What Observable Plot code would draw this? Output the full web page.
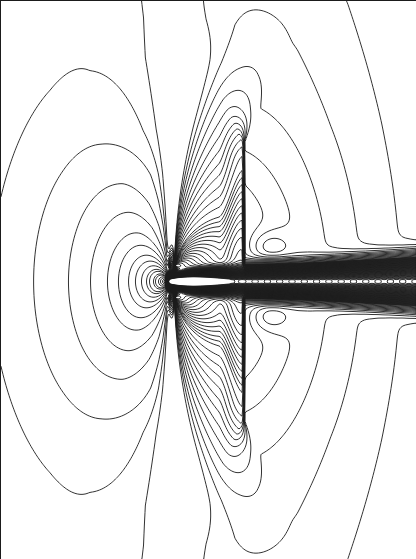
<!DOCTYPE html>
<html>
<head>
<meta charset="utf-8">
<script src="https://cdn.jsdelivr.net/npm/d3@7"></script>
<script src="https://cdn.jsdelivr.net/npm/@observablehq/plot@0.6"></script>
<style>
  html, body { margin: 0; padding: 0; background: #fff; }
  #chart { width: 416px; height: 559px; overflow: hidden; }
</style>
</head>
<body>
<div id="chart"></div>
<script>
// Pressure contours around a slender body: subsonic field ahead of the nose,
// an expansion fan over the shoulders ending in a shock, and a thin wake.
// Coordinates are measured from the nose (x downstream, y across the flow).

// Positive contour levels (compression ahead of the nose)
const positiveLevels = [0.0315, 0.0442, 0.0576, 0.0769, 0.0976, 0.123, 0.148,
  0.182, 0.216, 0.258, 0.308, 0.348, 0.421, 0.47, 0.571, 0.667, 0.8, 0.94, 1.09,
  1.27, 1.45, 1.68, 1.9];

// Negative contour levels, given as magnitudes (expansion, shock and wake)
const negativeLevels = [0.034, 0.041, 0.049, 0.059, 0.071, 0.085, 0.102, 0.122,
  0.146, 0.176, 0.211, 0.253, 0.304, 0.333, 0.364, 0.399, 0.437, 0.479, 0.525,
  0.575, 0.63, 0.69, 0.756, 0.828, 0.907, 0.993, 1.09, 1.19, 1.31, 1.43, 1.57,
  1.72, 1.88, 2.06, 2.26, 2.47, 2.71, 2.97, 3.25, 3.56, 3.9, 4.27, 4.68, 5.12,
  5.62, 6.15, 6.74, 7.38, 8.09, 8.86, 9.71, 10.6, 11.65, 12.8, 13.98, 15.3,
  16.78, 18.4, 20.13, 22.0, 24.16];

// Cross-stream stretch of the far field versus distance from the nose
const stretchRadius = [0, 56, 80, 108, 153, 225, 265, 330, 500];
const stretchFactor = [1.0, 1.6, 1.78, 1.93, 2.0, 2.28, 2.55, 2.85, 3.3];

// Wake half-width along the body axis
const wakeStation = [0, 25, 75, 132, 248];
const wakeHalfWidth = [10, 17, 21, 23, 31];

// Recompression region just behind the shock (centre, radii, strength)
const bubbleCenter = [98, 34];
const bubbleRadius = [24, 18];
const bubbleStrength = 0.03;

// Field parameters
const dipoleStrength = 8, coreRadius = 4;
const polarBoost = 0.8, polarWidth = 8;             // extra stretch near the vertical (deg)
const focalX = 6, focalY = 16;                      // shoulder where the fan starts
const fanStrength = 43, fanRadius = 30;
const shockX = 75, shockHalfWidth = 1.6;
const shockGain = 0.8, shockRamp = [50, 75], shockHeight = [120, 175];
const pocketTop = [165, 300];                       // fan fades out between these heights
const bodyLength = 62, bodyShape = 8.05;
const noseCore = 35, wakeCore = 24.16, wakeRipple = 0.05, ripplePeriod = 12.3, wakeCoreHalf = 1.3;
const edgeLevel = 0.05, wakeShape = 1.3;

const domainX = [-168, 248], domainY = [-281, 278];

const thresholds = [...negativeLevels.map(v => -v).reverse(), ...positiveLevels];
const kBase = d3.scaleLinear(stretchRadius, stretchFactor).clamp(true);
const wakeW = d3.scaleLinear(wakeStation, wakeHalfWidth);

function smoothstep(a, b, v) {
  const t = Math.max(0, Math.min(1, (v - a) / (b - a)));
  return t * t * (3 - 2 * t);
}

// stretched doublet with a small core at the nose
function doublet(X, ay) {
  const r = Math.hypot(X, ay);
  const psi = Math.atan2(Math.abs(X), ay) * 180 / Math.PI;
  const k = kBase(r) * (1 + polarBoost * Math.exp(-psi / polarWidth));
  const rho = Math.hypot(X, ay / k);
  return rho > 0 ? -dipoleStrength * (X / rho) / (rho + coreRadius) : 0;
}

// expansion fan from the shoulder, strengthening toward the shock and cut off by it
function downstream(X, ay) {
  const dx = X - focalX, dy = ay - focalY;
  const rf = Math.hypot(dx, dy);
  const s = rf > 0 ? dx / rf : 0;
  const boost = 1 + shockGain * smoothstep(shockRamp[0], shockRamp[1], X)
    * (1 - smoothstep(shockHeight[0], shockHeight[1], ay));
  const fan = -fanStrength * s / (rf + fanRadius) * boost;
  const dip = doublet(X, ay);
  const spread = shockHalfWidth + 0.5 * Math.max(0, ay - 140);
  const cut = 1 - smoothstep(shockX - spread, shockX + spread, X);
  const P = cut * (1 - smoothstep(pocketTop[0], pocketTop[1], ay));
  const bx = (X - bubbleCenter[0]) / bubbleRadius[0];
  const by = (ay - bubbleCenter[1]) / bubbleRadius[1];
  const bubble = bubbleStrength * Math.exp(-(bx * bx + by * by)) * (1 - cut);
  return dip + P * (fan - dip) + bubble;
}

function pressure(X, Y) {
  const ay = Math.abs(Y);
  const wR = smoothstep(-2, 8, X);
  let f = wR < 1 ? doublet(X, ay) : 0;
  if (wR > 0) f = (1 - wR) * f + wR * downstream(X, ay);

  // body and wake
  const on = smoothstep(-3, 2, X);
  if (on > 0) {
    const Xc = Math.max(X, 0);
    const t = Xc / bodyLength;
    const core = t < 1 ? bodyShape * Math.sqrt(t) * (1 - t) : wakeCoreHalf;
    const F = t < 1 ? noseCore
      : wakeCore * (1 + wakeRipple * Math.cos(2 * Math.PI * (Xc - bodyLength) / ripplePeriod));
    const lambda = Math.max(0.5, (wakeW(Xc) - core) / Math.pow(Math.log(F / edgeLevel), 1 / wakeShape));
    const d = Math.max(0, ay - core) / lambda;
    f += -F * Math.exp(-Math.pow(d, wakeShape)) * on;
  }
  return f;
}

const chart = Plot.plot({
  width: 416,
  height: 559,
  margin: 0,
  x: {domain: domainX, range: [0, 416], axis: null},
  y: {domain: domainY, range: [0, 559], axis: null},
  marks: [
    Plot.contour({
      x1: domainX[0], x2: domainX[1], y1: domainY[0], y2: domainY[1],
      value: pressure,
      thresholds,
      pixelSize: 1,
      fill: "none",
      stroke: "#1c1c1c",
      strokeWidth: 0.9
    })
  ]
});
document.getElementById("chart").append(chart);
</script>
</body>
</html>
